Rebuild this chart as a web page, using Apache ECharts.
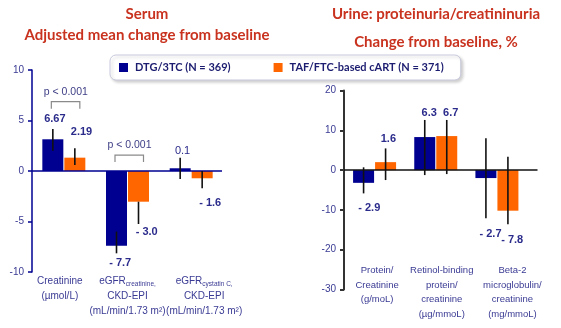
<!DOCTYPE html>
<html><head><meta charset="utf-8">
<script src="https://cdn.jsdelivr.net/npm/echarts@6/dist/echarts.min.js"></script>
<style>html,body{margin:0;padding:0;background:#fff}#c{width:561px;height:328px}</style>
</head><body><div id="c"></div>
<script>
// ---------- data ----------
const seriesNames = ['DTG/3TC (N = 369)', 'TAF/FTC-based cART (N = 371)'];

const leftCategories = [
  ['Creatinine', '(µmol/L)'],
  ['eGFR{s|creatinine,}', 'CKD-EPI', '(mL/min/1.73 m²)'],
  ['eGFR{s|cystatin C,}', 'CKD-EPI', '(mL/min/1.73 m²)']
];
const leftDTG = [3.14, -7.4, 0.27];
const leftTAF = [1.32, -3.04, -0.72];
const leftDTGErr = [[2.0, 4.16], [-8.15, -6.0], [-0.8, 1.32]];
const leftTAFErr = [[0.6, 2.25], [-5.25, -3.04], [-1.72, 0]];
const leftDTGLabels = ['6.67', '- 7.7', '0.1'];
const leftTAFLabels = ['2.19', '- 3.0', '- 1.6'];
const leftYTicks = [-10, -5, 0, 5, 10];
const leftPValues = [[0, 6.86, 'p < 0.001'], [1, 1.58, 'p < 0.001']];

const rightCategories = [
  ['Protein/', 'Creatinine', '(g/moL)'],
  ['Retinol-binding', 'protein/', 'creatinine', '(µg/mmoL)'],
  ['Beta-2', 'microglobulin/', 'creatinine', '(mg/mmoL)']
];
const rightDTG = [-3.2, 8.3, -2.0];
const rightTAF = [2.0, 8.55, -10.2];
const rightDTGErr = [[-5.85, 0.7], [-1.25, 12.6], [-12.1, 8.0]];
const rightTAFErr = [[-2.5, 5.45], [-1.0, 12.6], [-13.6, 3.35]];
const rightDTGLabels = ['- 2.9', '6.3', '- 2.7'];
const rightTAFLabels = ['1.6', '6.7', '- 7.8'];
const rightYTicks = [-30, -20, -10, 0, 10, 20];
const rightPValues = [];

// ---------- style ----------
const NAVY = '#000090', ORANGE = '#ff6600';
const LABEL_COLOR = '#2b2b8c', AXIS_TXT = '#3a3a94';
const BAR_W = 21, BAR_GAP = 1;
const FONT = '"Liberation Sans", Arial, sans-serif';
const TFONT = 'Lato, "Open Sans", sans-serif';
const TITLE_FONT = 'bold 15px ' + TFONT;
const TITLE_COLOR = '#c8321e';
// label pixel offsets relative to bar end  [dx, dy], and weight
const leftLabelOff = { dtg: [[2, -20], [3.7, 17], [2.4, -17.6]], taf: [[6.7, -25.4], [8.2, 30.6], [8, 25]] };
const leftLabelWeight = { dtg: ['bold', 'bold', 'normal'], taf: ['bold', 'bold', 'bold'] };
const rightLabelOff = { dtg: [[5.7, 25.6], [4.5, -24.3], [4.6, 56]], taf: [[2.8, -23], [4, -23.3], [4.3, 29.3]] };
const rightLabelWeight = { dtg: ['bold', 'bold', 'bold'], taf: ['bold', 'bold', 'bold'] };
const leftLabelShift = [-4, 0, 13];
const rightLabelShift = [2.5, 6, 15.5];

function makeRender(p) {
  return function (params, api) {
    const i = api.value(0);
    const cs = params.coordSys;
    const z = api.coord([i, 0]);
    const cx = z[0];
    const children = [];
    const offs = [-(BAR_W / 2 + BAR_GAP / 2), BAR_W / 2 + BAR_GAP / 2];
    if (params.dataIndex === 0) {
      children.push({ type: 'line', shape: { x1: cs.x, y1: z[1], x2: cs.x + cs.width + p.zeroExtra, y2: z[1] },
        style: { stroke: p.zeroColor, lineWidth: 1.5 } });
    }
    const errs = [p.dtgErr, p.tafErr], vals = [p.dtg, p.taf], labs = [p.dtgLab, p.tafLab],
      offArr = [p.off.dtg, p.off.taf], wArr = [p.weight.dtg, p.weight.taf];
    for (let s = 0; s < 2; s++) {
      const x = cx + offs[s];
      const lo = api.coord([i, errs[s][i][0]]), hi = api.coord([i, errs[s][i][1]]);
      children.push({ type: 'line', shape: { x1: x, y1: lo[1], x2: x, y2: hi[1] },
        style: { stroke: '#111', lineWidth: 1.6 } });
      const end = api.coord([i, vals[s][i]]);
      const o = offArr[s][i];
      children.push({ type: 'text', style: { x: x + o[0], y: end[1] + o[1], text: labs[s][i],
        fill: LABEL_COLOR, fontSize: 11, fontWeight: wArr[s][i], fontFamily: FONT,
        align: 'center', verticalAlign: 'middle', textAlign: 'center', textVerticalAlign: 'middle' } });
    }
    p.pvals.forEach(pv => {
      if (pv[0] !== i) return;
      const t = api.coord([i, pv[1]]);
      const x1 = cx - 12.5, x2 = cx + 16, y = t[1];
      children.push({ type: 'polyline', shape: { points: [[x1, y + 7], [x1, y], [x2, y], [x2, y + 7]] },
        style: { stroke: '#8a8a8a', lineWidth: 1.2, fill: null } });
      children.push({ type: 'text', style: { x: cx + 2, y: y - 9.5, text: pv[2], fill: '#3e3e86',
        fontSize: 10.5, fontFamily: FONT, align: 'center', verticalAlign: 'middle',
        textAlign: 'center', textVerticalAlign: 'middle' } });
    });
    return { type: 'group', children };
  };
}

function catData(cats, shifts) {
  return cats.map((lines, k) => {
    const s = shifts[k];
    const pad = s >= 0 ? [0, 0, 0, 2 * s] : [0, -2 * s, 0, 0];
    return { value: lines.join('\n'), textStyle: { padding: pad } };
  });
}

const chart = echarts.init(document.getElementById('c'), null, { renderer: 'canvas' });
const option = {
  animation: false,
  backgroundColor: '#fff',
  graphic: [
    { type: 'text', x: 147, y: 14, style: { text: 'Serum', fill: TITLE_COLOR, font: TITLE_FONT, align: 'center', verticalAlign: 'middle' } },
    { type: 'text', x: 147, y: 35, style: { text: 'Adjusted mean change from baseline', fill: TITLE_COLOR, font: TITLE_FONT, align: 'center', verticalAlign: 'middle' } },
    { type: 'text', x: 436, y: 14, style: { text: 'Urine: proteinuria/creatininuria', fill: TITLE_COLOR, font: TITLE_FONT, align: 'center', verticalAlign: 'middle' } },
    { type: 'text', x: 436, y: 42.5, style: { text: 'Change from baseline, %', fill: TITLE_COLOR, font: TITLE_FONT, align: 'center', verticalAlign: 'middle' } }
  ],
  legend: {
    data: seriesNames,
    left: 110, top: 55,
    padding: [7, 17, 7, 9],
    itemWidth: 9, itemHeight: 9, itemGap: 43,
    icon: 'rect',
    backgroundColor: '#fff',
    borderColor: '#c8cadc', borderWidth: 1, borderRadius: 6,
    shadowColor: 'rgba(0,0,0,0.18)', shadowBlur: 3, shadowOffsetX: 2, shadowOffsetY: 2,
    textStyle: { fontFamily: TFONT, fontWeight: 'bold', fontSize: 11, color: '#1c1c70', padding: [0, 0, 0, 2] },
    selectedMode: false
  },
  grid: [
    { left: 32, right: 338, top: 70, bottom: 56 },
    { left: 344, right: 33.5, top: 90.5, bottom: 38.5 }
  ],
  xAxis: [
    { type: 'category', gridIndex: 0, data: catData(leftCategories, leftLabelShift),
      axisLine: { show: false }, axisTick: { show: false },
      axisLabel: { interval: 0, margin: 2, fontSize: 10, lineHeight: 15, color: AXIS_TXT, fontFamily: FONT,
        rich: { s: { fontSize: 6.5, lineHeight: 15, color: AXIS_TXT, fontFamily: FONT, padding: [5, 0, 0, 0] } } } },
    { type: 'category', gridIndex: 1, data: catData(rightCategories, rightLabelShift),
      axisLine: { show: false }, axisTick: { show: false },
      axisLabel: { interval: 0, margin: -26, fontSize: 9.5, lineHeight: 14.5, color: AXIS_TXT, fontFamily: FONT } }
  ],
  yAxis: [
    { type: 'value', gridIndex: 0, min: leftYTicks[0], max: leftYTicks[leftYTicks.length - 1], interval: 5,
      splitLine: { show: false },
      axisLine: { show: true, lineStyle: { color: NAVY, width: 1.5 } },
      axisTick: { show: true, length: 4, lineStyle: { color: NAVY, width: 1.5 } },
      axisLabel: { margin: 8, fontSize: 10, color: AXIS_TXT, fontFamily: FONT } },
    { type: 'value', gridIndex: 1, min: rightYTicks[0], max: rightYTicks[rightYTicks.length - 1], interval: 10,
      splitLine: { show: false },
      axisLine: { show: true, lineStyle: { color: '#333', width: 2 } },
      axisTick: { show: true, length: 4, lineStyle: { color: '#333', width: 2 } },
      axisLabel: { margin: 8, fontSize: 10, color: AXIS_TXT, fontFamily: FONT } }
  ],
  series: [
    { name: seriesNames[0], type: 'bar', xAxisIndex: 0, yAxisIndex: 0, data: leftDTG, barWidth: BAR_W, barGap: (BAR_GAP / BAR_W * 100) + '%', itemStyle: { color: NAVY } },
    { name: seriesNames[1], type: 'bar', xAxisIndex: 0, yAxisIndex: 0, data: leftTAF, barWidth: BAR_W, barGap: (BAR_GAP / BAR_W * 100) + '%', itemStyle: { color: ORANGE } },
    { name: seriesNames[0], type: 'bar', xAxisIndex: 1, yAxisIndex: 1, data: rightDTG, barWidth: BAR_W, barGap: (BAR_GAP / BAR_W * 100) + '%', itemStyle: { color: NAVY } },
    { name: seriesNames[1], type: 'bar', xAxisIndex: 1, yAxisIndex: 1, data: rightTAF, barWidth: BAR_W, barGap: (BAR_GAP / BAR_W * 100) + '%', itemStyle: { color: ORANGE } },
    { type: 'custom', xAxisIndex: 0, yAxisIndex: 0, clip: false, silent: true, z: 10,
      data: leftDTG.map((v, k) => [k, 0]),
      renderItem: makeRender({ dtg: leftDTG, taf: leftTAF, dtgErr: leftDTGErr, tafErr: leftTAFErr,
        dtgLab: leftDTGLabels, tafLab: leftTAFLabels, off: leftLabelOff, weight: leftLabelWeight,
        pvals: leftPValues, zeroColor: NAVY, zeroExtra: -1 }) },
    { type: 'custom', xAxisIndex: 1, yAxisIndex: 1, clip: false, silent: true, z: 10,
      data: rightDTG.map((v, k) => [k, 0]),
      renderItem: makeRender({ dtg: rightDTG, taf: rightTAF, dtgErr: rightDTGErr, tafErr: rightTAFErr,
        dtgLab: rightDTGLabels, tafLab: rightTAFLabels, off: rightLabelOff, weight: rightLabelWeight,
        pvals: rightPValues, zeroColor: '#111', zeroExtra: 10 }) }
  ]
};
chart.setOption(option);
</script></body></html>
